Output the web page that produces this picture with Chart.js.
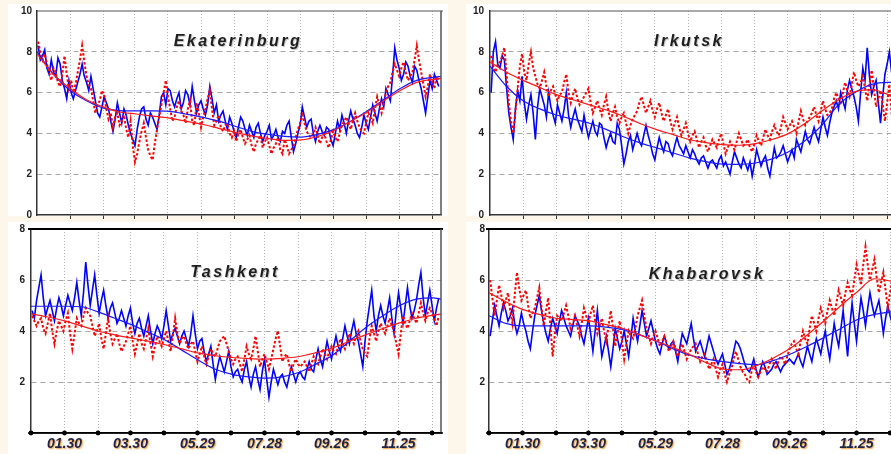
<!DOCTYPE html>
<html>
<head>
<meta charset="utf-8">
<script src="https://cdn.jsdelivr.net/npm/chart.js@4.4.0/dist/chart.umd.min.js"></script>
<style>
  html, body { margin: 0; padding: 0; }
  body { width: 891px; height: 454px; overflow: hidden; background: #fcf7ea; position: relative; }
  canvas.panel { position: absolute; }
  .title {
    position: absolute; width: 300px; text-align: center; line-height: 16px;
    font: bold italic 16px "Liberation Sans", Arial, sans-serif; letter-spacing: 2.5px;
    color: #1e1e1e; text-shadow: 1px 1px 1px rgba(0, 0, 0, 0.25); z-index: 2;
  }
</style>
</head>
<body>
<canvas id="ekaChart" class="panel" width="440" height="222" style="left:8px;top:4px"></canvas>
<canvas id="irkChart" class="panel" width="436" height="222" style="left:466px;top:4px"></canvas>
<canvas id="tasChart" class="panel" width="440" height="232" style="left:8px;top:222px"></canvas>
<canvas id="khaChart" class="panel" width="436" height="232" style="left:466px;top:222px"></canvas>
<div class="title" style="left:88px;top:32px">Ekaterinburg</div>
<div class="title" style="left:539px;top:32px">Irkutsk</div>
<div class="title" style="left:85px;top:263px">Tashkent</div>
<div class="title" style="left:557px;top:265px">Khabarovsk</div>
<script>
// day of year for the daily samples (every 2nd day) and for the smoothed curves
const sampleDays = Array.from({length: 183}, (_, i) => 1 + 2 * i);
const smoothDays = [0, 15, 30, 45, 60, 75, 90, 105, 120, 135, 150, 165, 180, 195, 210, 225, 240, 255, 270, 285, 300, 315, 330, 345, 360, 367];

// x axis grid / tick labels
const gridDays = [30, 60, 89, 119, 149, 179, 209, 239, 269, 299, 329, 359];
const tickLabels = ['01.30', '', '03.30', '', '05.29', '', '07.28', '', '09.26', '', '11.25', ''];
const axisDotDays = [0, 30, 60, 89, 119, 149, 179, 209, 239, 269, 299, 329, 359];

// Ekaterinburg
const ekaBlue = [
  8.3, 7.6, 7.8, 8.1, 7.2, 6.9, 7.6, 7.0, 6.8, 7.7, 7.4, 6.6, 6.2, 5.7, 6.6, 6.0, 5.7, 6.1, 6.5, 6.9,
  7.4, 6.8, 6.5, 6.1, 6.8, 6.2, 5.6, 5.0, 4.8, 5.3, 5.8, 5.5, 5.2, 4.6, 4.1, 4.7, 5.5, 5.0, 4.5, 5.2,
  4.9, 4.4, 4.0, 3.7, 3.4, 4.2, 4.8, 5.2, 5.3, 4.7, 4.4, 5.0, 4.8, 4.5, 4.2, 4.9, 5.8, 6.0, 5.4, 6.2,
  6.1, 5.6, 5.3, 5.7, 6.0, 5.2, 5.5, 6.1, 5.9, 5.4, 6.3, 5.6, 5.0, 5.4, 5.6, 5.2, 4.9, 5.4, 6.3, 5.7,
  5.0, 5.4, 4.6, 4.9, 5.1, 4.6, 4.2, 4.8, 4.5, 4.1, 3.8, 4.3, 4.8, 4.6, 4.2, 3.9, 4.4, 4.1, 3.8, 4.3,
  4.5, 4.0, 3.6, 3.9, 4.1, 4.4, 3.7, 3.9, 4.2, 3.8, 3.6, 4.1, 4.0, 4.4, 4.6, 3.8, 3.1, 3.5, 4.0, 4.4,
  5.3, 4.8, 4.3, 4.6, 4.7, 4.0, 3.6, 4.1, 4.4, 4.1, 3.9, 4.3, 4.2, 3.7, 3.4, 4.0, 4.6, 4.2, 4.9, 4.5,
  4.0, 4.6, 5.1, 4.7, 4.4, 4.0, 3.8, 4.3, 4.9, 4.5, 4.2, 4.8, 5.4, 5.0, 4.6, 5.2, 5.7, 5.3, 6.2, 5.9,
  5.6, 6.8, 8.2, 7.6, 7.2, 6.6, 6.9, 7.5, 7.3, 6.8, 6.5, 7.3, 7.1, 6.6, 6.2, 5.6, 5.0, 5.8, 6.6, 6.2,
  6.9, 6.6, 6.3
];
const ekaRed = [
  8.5, 8.0, 7.6, 7.9, 7.4, 7.0, 6.6, 7.2, 7.0, 6.5, 6.3, 6.9, 7.8, 6.9, 6.2, 6.6, 6.0, 6.4, 7.0, 7.6,
  8.3, 7.5, 6.8, 6.4, 6.2, 5.6, 5.0, 5.4, 5.6, 6.1, 5.9, 5.2, 4.7, 5.0, 4.3, 4.8, 5.0, 4.4, 4.6, 4.9,
  4.2, 3.8, 4.6, 3.4, 2.6, 3.0, 3.6, 4.1, 4.5, 3.8, 3.2, 2.9, 2.7, 3.5, 4.2, 4.8, 5.4, 6.0, 6.6, 5.8,
  5.2, 4.6, 4.8, 5.3, 5.6, 5.1, 4.9, 4.5, 5.2, 5.6, 4.6, 4.4, 5.5, 5.0, 4.3, 4.8, 5.2, 5.7, 6.1, 5.2,
  4.4, 4.6, 4.9, 4.3, 4.1, 4.4, 4.5, 4.0, 3.8, 4.1, 3.6, 4.0, 4.2, 3.8, 3.5, 3.7, 3.9, 3.4, 3.1, 3.5,
  3.7, 3.9, 3.3, 3.6, 3.8, 3.4, 3.0, 3.3, 3.5, 3.8, 3.2, 3.0, 3.7, 3.4, 3.0, 3.2, 3.4, 3.8, 4.2, 4.5,
  4.9, 4.5, 4.1, 3.9, 3.8, 4.0, 4.3, 3.9, 3.5, 3.8, 4.0, 3.6, 3.3, 3.7, 4.1, 3.8, 3.6, 4.0, 4.4, 4.6,
  4.8, 4.5, 4.2, 4.6, 5.0, 4.6, 4.3, 4.1, 4.0, 4.5, 5.0, 4.8, 4.5, 5.2, 5.8, 5.4, 5.0, 5.5, 6.0, 6.3,
  6.5, 7.0, 7.4, 7.1, 6.8, 7.2, 7.5, 7.0, 6.6, 6.8, 7.0, 7.6, 8.3, 7.6, 7.0, 6.4, 5.8, 6.3, 6.9, 6.5,
  6.2, 6.8, 6.6
];
const ekaBlueSmooth = [8.0, 6.9, 6.1, 5.6, 5.25, 5.12, 5.1, 5.1, 5.08, 4.95, 4.8, 4.6, 4.35, 4.1, 3.95, 3.85, 3.82, 3.95, 4.2, 4.6, 5.1, 5.65, 6.2, 6.6, 6.75, 6.8];
const ekaRedSmooth = [7.9, 6.9, 6.2, 5.65, 5.3, 5.05, 4.95, 4.85, 4.75, 4.6, 4.45, 4.25, 4.05, 3.88, 3.75, 3.66, 3.68, 3.85, 4.15, 4.6, 5.05, 5.6, 6.1, 6.5, 6.65, 6.7];

// Irkutsk
const irkBlue = [
  6.0, 8.0, 8.5, 7.4, 7.2, 7.8, 7.6, 6.2, 5.0, 4.3, 3.7, 5.2, 6.1, 5.6, 6.8, 5.5, 4.7, 5.4, 5.9, 5.0,
  3.7, 5.3, 6.2, 5.8, 5.4, 4.8, 6.0, 5.3, 4.9, 4.5, 5.4, 5.0, 4.6, 5.2, 6.0, 4.9, 4.3, 4.8, 5.2, 4.7,
  4.4, 4.1, 4.9, 4.3, 3.8, 4.2, 4.6, 4.1, 3.9, 4.5, 4.4, 3.8, 3.3, 3.7, 4.0, 3.6, 3.5, 4.5, 4.2, 3.4,
  2.5, 3.0, 3.6, 3.9, 3.2, 3.6, 4.0, 3.6, 3.4, 3.9, 4.4, 3.9, 3.5, 3.0, 2.7, 3.3, 3.8, 3.4, 3.1, 3.6,
  3.5, 3.1, 2.9, 3.4, 3.8, 3.4, 3.2, 3.0, 3.4, 3.1, 2.8, 3.2, 3.0, 2.7, 2.5, 2.8, 2.9, 2.6, 2.3, 2.6,
  2.7, 2.5, 2.3, 2.7, 2.9, 2.4, 2.6, 2.3, 2.0, 2.6, 3.1, 2.8, 2.5, 2.3, 2.8, 2.5, 2.2, 2.6, 1.9, 2.5,
  3.2, 2.8, 2.4, 2.7, 2.9, 2.3, 1.9, 2.6, 3.3, 2.8, 2.9, 3.1, 3.4, 3.0, 2.6, 2.9, 3.2, 2.8, 3.7, 3.4,
  3.1, 3.6, 4.1, 3.7, 3.5, 3.9, 4.3, 3.9, 3.6, 4.2, 4.8, 4.3, 3.9, 4.5, 5.0, 5.3, 5.6, 5.2, 6.0, 5.6,
  5.2, 6.1, 6.6, 6.2, 5.8, 5.3, 4.6, 6.0, 7.2, 6.6, 8.2, 6.8, 5.9, 6.3, 6.6, 5.5, 4.5, 5.8, 6.9, 7.4,
  8.0, 7.0, 6.4
];
const irkRed = [
  7.8, 7.3, 7.0, 7.4, 7.5, 7.8, 8.2, 6.9, 5.5, 4.6, 4.0, 5.1, 6.2, 7.3, 7.9, 7.0, 6.6, 7.4, 8.0, 7.2,
  6.8, 6.4, 6.2, 6.6, 7.0, 6.3, 5.8, 6.1, 6.3, 5.9, 5.6, 5.9, 6.0, 6.5, 6.9, 6.0, 5.5, 5.9, 6.2, 5.7,
  5.4, 5.6, 5.8, 6.0, 6.2, 5.5, 5.0, 5.3, 5.6, 5.2, 4.9, 5.4, 5.8, 5.1, 4.6, 5.0, 5.3, 4.8, 4.5, 4.8,
  5.0, 4.5, 4.0, 4.4, 4.7, 4.9, 5.1, 5.5, 5.8, 5.4, 5.0, 5.3, 5.6, 5.1, 4.8, 5.2, 5.5, 5.0, 4.6, 4.9,
  5.2, 4.6, 4.2, 4.5, 4.8, 4.3, 3.9, 4.2, 4.5, 4.0, 3.6, 3.9, 4.1, 3.7, 3.3, 3.6, 3.8, 3.4, 3.1, 3.4,
  3.7, 3.5, 3.3, 3.7, 4.0, 3.5, 3.0, 3.3, 3.6, 3.4, 3.2, 3.6, 4.0, 3.7, 3.4, 3.5, 3.7, 3.3, 3.1, 3.5,
  3.9, 3.6, 3.4, 3.8, 4.2, 3.9, 3.7, 4.1, 4.4, 4.1, 3.9, 4.3, 4.8, 4.5, 4.2, 4.4, 4.6, 4.3, 4.0, 4.6,
  5.1, 4.7, 4.4, 4.6, 4.8, 5.0, 5.3, 4.9, 4.6, 5.1, 5.6, 5.2, 4.9, 5.0, 5.2, 5.7, 6.0, 5.7, 5.4, 6.0,
  6.5, 6.1, 5.8, 6.4, 7.0, 6.6, 6.3, 6.5, 6.8, 6.2, 5.6, 6.4, 7.1, 6.2, 5.3, 5.7, 6.1, 5.4, 4.6, 5.5,
  6.4, 5.0, 3.9
];
const irkBlueSmooth = [7.3, 6.3, 5.6, 5.2, 4.9, 4.7, 4.5, 4.2, 3.85, 3.55, 3.3, 3.05, 2.8, 2.62, 2.5, 2.48, 2.55, 2.75, 3.1, 3.65, 4.4, 5.4, 6.0, 6.4, 6.5, 6.5];
const irkRedSmooth = [7.5, 7.0, 6.6, 6.25, 5.9, 5.65, 5.4, 5.15, 4.85, 4.5, 4.2, 3.95, 3.7, 3.55, 3.45, 3.42, 3.5, 3.7, 4.0, 4.5, 5.1, 5.65, 6.05, 6.15, 5.9, 5.75];

// Tashkent
const tasBlue = [
  4.8, 4.5, 5.2, 5.7, 6.2, 5.3, 4.6, 4.9, 5.2, 4.8, 4.4, 4.9, 5.3, 5.0, 4.6, 5.0, 5.4, 5.1, 4.8, 5.3,
  5.9, 5.2, 4.6, 5.5, 6.7, 5.8, 5.0, 5.6, 6.2, 5.4, 4.7, 5.2, 5.6, 5.0, 4.5, 4.9, 5.1, 4.7, 4.3, 4.5,
  4.8, 4.5, 4.2, 4.6, 4.9, 4.3, 3.9, 4.3, 4.5, 4.1, 3.8, 4.2, 4.6, 4.0, 3.5, 3.9, 4.2, 4.0, 3.7, 4.2,
  4.8, 4.2, 3.6, 3.9, 4.1, 3.8, 3.5, 3.8, 4.0, 3.7, 3.4, 3.9, 4.6, 3.9, 3.3, 3.6, 3.7, 3.2, 2.8, 3.1,
  3.4, 2.7, 2.1, 2.6, 3.0, 2.7, 2.4, 2.8, 3.2, 2.6, 2.2, 2.4, 2.5, 2.2, 2.0, 2.5, 2.8, 2.2, 1.8, 2.3,
  2.6, 2.1, 1.7, 2.4, 2.9, 2.1, 1.4, 2.0, 2.5, 2.2, 1.9, 2.2, 2.3, 2.0, 1.8, 2.2, 2.6, 2.3, 2.0, 2.3,
  2.4, 2.2, 2.1, 2.5, 2.8, 2.5, 2.4, 2.9, 3.3, 2.9, 2.6, 3.1, 3.6, 3.2, 2.9, 3.4, 3.8, 3.4, 3.2, 3.7,
  4.2, 3.8, 3.5, 4.0, 4.4, 3.9, 3.6, 3.1, 2.6, 3.6, 4.4, 5.0, 5.6, 4.6, 4.0, 4.6, 5.0, 4.6, 4.3, 4.8,
  5.3, 4.5, 3.9, 4.8, 5.5, 4.9, 4.3, 5.0, 5.7, 5.0, 4.5, 4.8, 5.2, 5.8, 6.3, 5.3, 4.6, 5.1, 5.6, 5.0,
  4.4, 4.9, 5.3
];
const tasRed = [
  4.6, 4.4, 4.2, 4.4, 4.5, 4.1, 3.9, 4.3, 4.7, 4.0, 3.5, 4.0, 4.4, 4.2, 4.0, 4.4, 4.7, 3.9, 3.3, 3.9,
  4.5, 4.3, 4.2, 4.6, 4.9, 4.7, 4.6, 4.2, 3.8, 4.0, 4.3, 3.7, 3.3, 3.9, 4.5, 3.9, 3.5, 3.7, 3.9, 3.5,
  3.2, 3.4, 3.6, 3.9, 4.2, 3.6, 3.1, 3.5, 3.9, 3.5, 3.3, 3.7, 4.1, 3.5, 3.0, 3.4, 3.8, 3.6, 3.4, 3.7,
  4.0, 3.6, 3.2, 3.8, 4.5, 3.9, 3.5, 3.7, 3.8, 3.5, 3.3, 3.5, 3.6, 3.2, 2.8, 3.1, 3.4, 3.0, 2.7, 3.0,
  3.3, 3.1, 3.0, 3.3, 3.6, 3.7, 3.8, 3.5, 3.2, 2.9, 2.7, 2.9, 3.0, 2.7, 2.4, 2.9, 3.4, 3.1, 2.9, 3.3,
  3.8, 3.2, 2.6, 2.9, 3.1, 2.8, 2.5, 2.9, 3.3, 3.7, 4.0, 3.4, 2.8, 3.0, 3.1, 2.7, 2.4, 2.7, 2.9, 2.7,
  2.6, 2.7, 2.8, 2.6, 2.4, 2.7, 3.0, 2.8, 2.7, 3.0, 3.3, 3.1, 2.9, 3.2, 3.4, 3.2, 3.1, 3.4, 3.7, 3.5,
  3.3, 3.6, 3.9, 3.7, 3.5, 3.8, 4.0, 3.6, 3.3, 3.1, 3.0, 3.7, 4.2, 3.9, 3.6, 4.0, 4.3, 4.1, 3.9, 4.2,
  4.5, 4.2, 4.0, 3.5, 3.1, 3.9, 4.6, 4.3, 4.1, 4.4, 4.7, 4.5, 4.3, 4.7, 5.1, 4.7, 4.4, 4.7, 4.9, 4.7,
  4.5, 4.2, 4.6
];
const tasBlueSmooth = [4.97, 4.97, 4.97, 4.95, 4.75, 4.5, 4.25, 3.95, 3.65, 3.25, 2.85, 2.5, 2.3, 2.2, 2.15, 2.2, 2.38, 2.7, 3.05, 3.6, 4.15, 4.6, 5.0, 5.25, 5.3, 5.25];
const tasRedSmooth = [4.67, 4.55, 4.4, 4.2, 4.0, 3.85, 3.72, 3.6, 3.46, 3.3, 3.13, 3.03, 2.96, 2.92, 2.9, 2.93, 3.0, 3.15, 3.33, 3.6, 3.86, 4.1, 4.32, 4.5, 4.62, 4.67];

// Khabarovsk
const khaBlue = [
  3.8, 4.4, 5.0, 4.6, 4.2, 4.7, 5.1, 4.8, 4.4, 4.6, 4.9, 4.3, 3.9, 4.2, 4.7, 4.3, 4.0, 3.6, 3.3, 4.0,
  4.6, 5.0, 5.4, 4.8, 4.3, 3.9, 3.6, 4.1, 4.5, 4.2, 3.9, 4.4, 4.8, 4.5, 4.2, 4.0, 3.8, 4.2, 4.6, 4.4,
  4.2, 3.8, 3.5, 4.0, 4.5, 3.9, 3.2, 4.0, 4.8, 3.9, 3.0, 3.4, 3.8, 3.2, 2.6, 3.3, 4.1, 3.7, 3.3, 3.6,
  4.0, 3.5, 3.0, 3.7, 4.5, 4.0, 3.6, 4.2, 4.8, 4.3, 3.8, 4.1, 4.4, 4.0, 3.6, 3.3, 3.1, 3.5, 3.8, 3.5,
  3.3, 3.5, 3.6, 3.2, 2.8, 3.4, 3.9, 3.7, 3.5, 3.9, 4.3, 3.7, 3.2, 3.4, 3.6, 3.3, 3.0, 3.4, 3.8, 3.5,
  3.2, 2.9, 2.7, 2.9, 3.1, 2.7, 2.3, 2.5, 2.8, 3.2, 3.6, 3.5, 3.3, 3.0, 2.7, 2.5, 2.4, 2.6, 2.9, 2.5,
  2.2, 2.5, 2.8, 2.6, 2.3, 2.4, 2.5, 2.7, 2.8, 2.6, 2.4, 2.6, 2.7, 2.8, 2.9, 2.8, 2.7, 2.9, 3.1, 2.8,
  2.6, 3.0, 3.4, 3.1, 2.8, 3.3, 3.7, 3.4, 3.1, 3.6, 4.0, 3.4, 2.9, 3.6, 4.3, 3.8, 3.4, 4.1, 4.8, 3.9,
  3.0, 4.2, 5.1, 4.3, 3.6, 4.5, 5.3, 4.8, 4.2, 4.9, 5.5, 5.0, 4.6, 4.9, 5.2, 4.6, 3.9, 4.5, 5.0, 4.6,
  4.3, 4.5, 4.6
];
const khaRed = [
  6.0, 5.3, 4.6, 5.2, 5.8, 5.4, 4.9, 5.2, 5.5, 4.8, 4.3, 5.4, 6.3, 5.7, 5.2, 5.4, 5.6, 5.0, 4.5, 4.7,
  4.9, 5.3, 5.7, 4.9, 4.2, 4.8, 5.3, 4.2, 3.0, 3.9, 4.6, 4.5, 4.4, 4.7, 5.0, 4.6, 4.1, 4.3, 4.6, 4.2,
  3.8, 4.3, 4.9, 4.6, 4.3, 4.7, 5.0, 4.4, 3.9, 4.2, 4.5, 4.0, 3.6, 4.2, 4.8, 4.1, 3.4, 3.9, 4.4, 3.6,
  2.9, 3.5, 4.0, 3.8, 3.7, 4.1, 4.6, 4.9, 5.2, 4.6, 4.1, 3.8, 3.5, 3.8, 4.0, 3.7, 3.4, 3.6, 3.8, 3.5,
  3.2, 3.4, 3.6, 3.3, 3.0, 3.3, 3.5, 3.2, 2.9, 3.1, 3.3, 3.4, 3.5, 3.1, 2.8, 3.0, 3.1, 2.8, 2.5, 2.7,
  2.9, 2.5, 2.2, 2.5, 2.7, 2.3, 2.0, 2.3, 2.5, 2.9, 3.2, 2.9, 2.6, 2.4, 2.3, 2.1, 2.0, 2.4, 2.7, 2.4,
  2.2, 2.4, 2.6, 2.5, 2.4, 2.7, 2.9, 2.7, 2.5, 2.8, 3.0, 2.9, 2.7, 3.0, 3.3, 3.5, 3.6, 3.3, 3.1, 3.6,
  4.0, 3.7, 3.5, 4.1, 4.6, 4.3, 4.0, 4.5, 4.9, 4.6, 4.3, 4.8, 5.2, 4.9, 4.6, 5.1, 5.6, 5.3, 5.0, 5.5,
  5.9, 5.6, 5.4, 6.0, 6.6, 6.2, 5.8, 6.6, 7.3, 6.6, 6.0, 6.4, 6.8, 6.1, 5.5, 5.9, 6.3, 5.6, 4.9, 5.5,
  6.1, 5.6, 5.2
];
const khaBlueSmooth = [4.6, 4.3, 4.2, 4.2, 4.2, 4.2, 4.2, 4.15, 4.05, 3.85, 3.6, 3.3, 3.05, 2.9, 2.8, 2.72, 2.68, 2.85, 3.1, 3.4, 3.75, 4.1, 4.45, 4.65, 4.75, 4.8];
const khaRedSmooth = [5.5, 5.15, 4.85, 4.65, 4.5, 4.45, 4.4, 4.25, 4.1, 3.85, 3.6, 3.35, 3.07, 2.75, 2.5, 2.48, 2.65, 2.95, 3.33, 3.85, 4.4, 5.0, 5.55, 6.05, 5.95, 5.85];

const toPoints = (days, values) => days.map((d, i) => ({x: d, y: values[i]}));

// white panel, plot frame, axis dots and label shadow
const panelDeco = {
    id: 'panelDeco',
    beforeDraw(chart, args, opts) {
        const ctx = chart.ctx;
        ctx.save();
        ctx.fillStyle = '#ffffff';
        ctx.fillRect(0, 0, chart.width, opts.whiteBottom);
        ctx.restore();
    },
    afterDatasetsDraw(chart, args, opts) {
        const {ctx, chartArea: a} = chart;
        ctx.save();
        ctx.strokeStyle = opts.topColor;
        ctx.lineWidth = opts.topWidth;
        ctx.beginPath();
        ctx.moveTo(a.left - opts.topExtend, a.top);
        ctx.lineTo(a.right + 2, a.top);
        ctx.stroke();
        ctx.strokeStyle = '#555555';
        ctx.lineWidth = 1.5;
        ctx.beginPath();
        ctx.moveTo(a.right, a.top);
        ctx.lineTo(a.right, a.bottom);
        ctx.stroke();
        if (opts.dots) {
            const xs = chart.scales.x;
            ctx.strokeStyle = '#000000';
            ctx.lineWidth = 1.5;
            ctx.beginPath();
            ctx.moveTo(a.left - 3, a.bottom);
            ctx.lineTo(a.right + 2, a.bottom);
            ctx.stroke();
            ctx.fillStyle = '#000000';
            axisDotDays.forEach(d => {
                ctx.beginPath();
                ctx.arc(xs.getPixelForValue(d), a.bottom, 2.4, 0, Math.PI * 2);
                ctx.fill();
            });
        }
        ctx.restore();
        if (opts.dots) {
            // x tick labels are drawn after this point (ticks.z = 1)
            ctx.save();
            ctx.shadowColor = 'rgba(238, 150, 40, 0.95)';
            ctx.shadowOffsetX = 1;
            ctx.shadowOffsetY = 1;
            ctx.shadowBlur = 1.5;
        }
    },
    afterDraw(chart, args, opts) {
        if (opts.dots) chart.ctx.restore();
    }
};

function createPanel(id, cfg, blue, red, blueSmooth, redSmooth) {
    const ctx = document.getElementById(id).getContext('2d');
    const bottomRow = cfg.bottomRow;
    return new Chart(ctx, {
        type: 'line',
        plugins: [panelDeco],
        data: {
            datasets: [
                {
                    data: toPoints(smoothDays, redSmooth),
                    borderColor: '#ff1a1a',
                    borderWidth: 1.2,
                    cubicInterpolationMode: 'monotone',
                    pointRadius: 0
                },
                {
                    data: toPoints(smoothDays, blueSmooth),
                    borderColor: '#1a1aff',
                    borderWidth: 1.2,
                    cubicInterpolationMode: 'monotone',
                    pointRadius: 0
                },
                {
                    data: toPoints(sampleDays, red),
                    borderColor: '#ff0000',
                    borderWidth: 2,
                    borderDash: [2.5, 2],
                    tension: 0,
                    pointRadius: 0
                },
                {
                    data: toPoints(sampleDays, blue),
                    borderColor: '#0000ff',
                    borderWidth: 1.6,
                    tension: 0,
                    pointRadius: 0
                }
            ]
        },
        options: {
            responsive: false,
            animation: false,
            events: [],
            layout: {
                autoPadding: false,
                padding: {left: 0, top: cfg.padTop, right: cfg.padRight, bottom: 0}
            },
            plugins: {
                legend: {display: false},
                tooltip: {enabled: false},
                panelDeco: {
                    whiteBottom: cfg.whiteBottom,
                    topColor: bottomRow ? '#000000' : '#555555',
                    topWidth: bottomRow ? 2.2 : 1.2,
                    topExtend: bottomRow ? 3 : 0,
                    dots: bottomRow
                }
            },
            scales: {
                x: {
                    type: 'linear',
                    min: 0,
                    max: 367,
                    afterBuildTicks: axis => { axis.ticks = gridDays.map(v => ({value: v})); },
                    afterFit: axis => { axis.height = cfg.xHeight; },
                    grid: {
                        color: '#b4b4b4',
                        lineWidth: 1,
                        drawTicks: !bottomRow,
                        tickLength: 4,
                        tickColor: '#333333',
                        tickBorderDash: [],
                        tickWidth: 1
                    },
                    border: {display: true, color: bottomRow ? '#000000' : '#333333', width: 1.5, dash: [1, 2]},
                    ticks: {
                        display: bottomRow,
                        autoSkip: false,
                        maxRotation: 0,
                        padding: 3,
                        z: 1,
                        color: '#1c2448',
                        font: {family: '"Liberation Sans", Arial, sans-serif', size: 14, weight: 'bold', style: 'italic', lineHeight: 1.2},
                        callback: (value, index) => tickLabels[index]
                    }
                },
                y: {
                    min: 0,
                    max: cfg.yMax,
                    afterFit: axis => { axis.width = cfg.yWidth; },
                    grid: {
                        drawTicks: false,
                        color: c => (c.tick.value === 0 || c.tick.value === cfg.yMax) ? 'rgba(0,0,0,0)' : '#a8a8a8'
                    },
                    border: {display: true, color: '#333333', width: 1.5, dash: [5, 4]},
                    ticks: {
                        stepSize: 2,
                        padding: cfg.yPad,
                        color: '#222222',
                        font: {family: '"Liberation Sans", Arial, sans-serif', size: 10, weight: 'bold', lineHeight: 0.1},
                        callback: v => (bottomRow && v === 0) ? '' : String(v)
                    }
                }
            }
        }
    });
}

createPanel('ekaChart', {bottomRow: false, yMax: 10, yWidth: 29, yPad: 5, padTop: 7, padRight: 7, xHeight: 11, whiteBottom: 212},
    ekaBlue, ekaRed, ekaBlueSmooth, ekaRedSmooth);
createPanel('irkChart', {bottomRow: false, yMax: 10, yWidth: 24, yPad: 6, padTop: 7, padRight: 6, xHeight: 11, whiteBottom: 212},
    irkBlue, irkRed, irkBlueSmooth, irkRedSmooth);
createPanel('tasChart', {bottomRow: true, yMax: 8, yWidth: 23, yPad: 6, padTop: 7, padRight: 7, xHeight: 21, whiteBottom: 232},
    tasBlue, tasRed, tasBlueSmooth, tasRedSmooth);
createPanel('khaChart', {bottomRow: true, yMax: 8, yWidth: 23, yPad: 4, padTop: 7, padRight: 3, xHeight: 21, whiteBottom: 232},
    khaBlue, khaRed, khaBlueSmooth, khaRedSmooth);
</script>
</body>
</html>
